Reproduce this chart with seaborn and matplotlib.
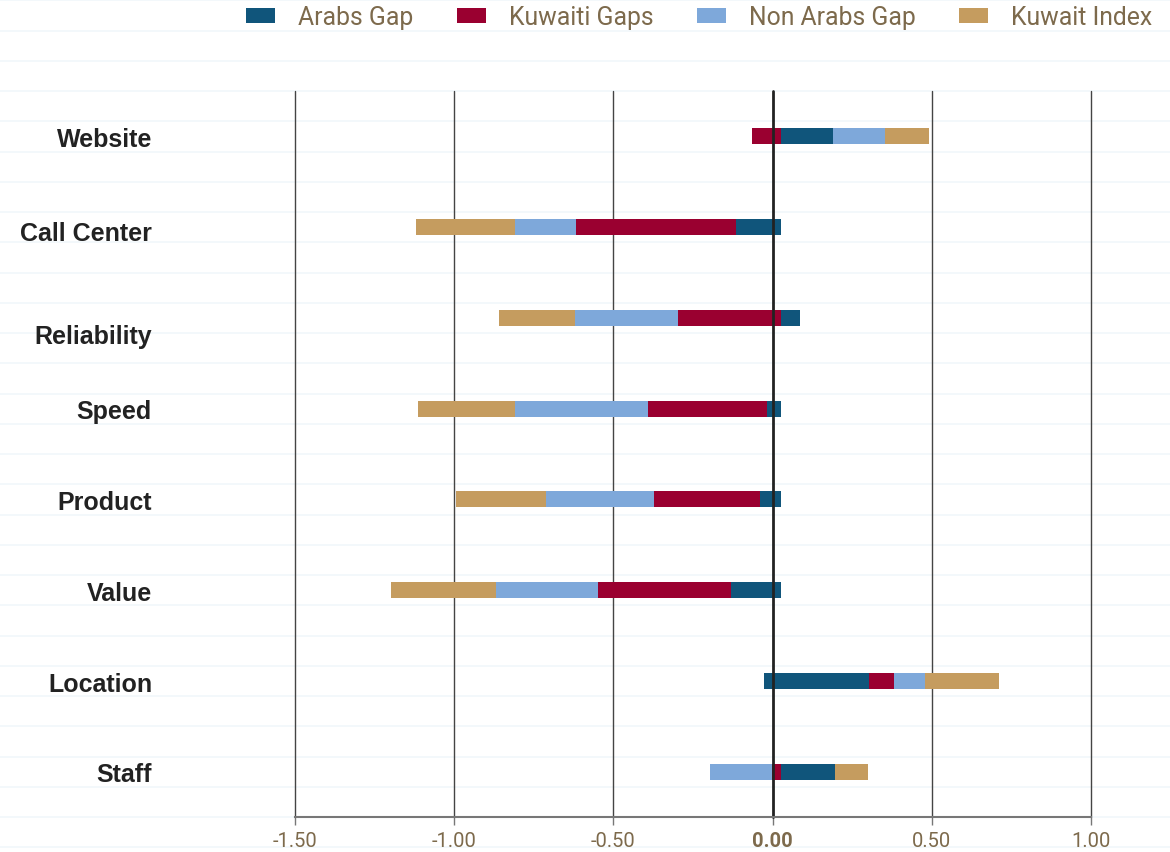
import matplotlib

matplotlib.use("Agg")
import matplotlib.pyplot as plt
import matplotlib.transforms as mtransforms
import numpy as np
import seaborn as sns
from matplotlib.lines import Line2D
from matplotlib.patches import Patch

categories = ["Website", "Call Center", "Reliability", "Speed", "Product", "Value", "Location", "Staff"]
series_names = ["Arabs Gap", "Kuwaiti Gaps", "Non Arabs Gap", "Kuwait Index"]

# stacks start from this point
stack_base = [0.026, 0.025, 0.025, 0.025, 0.025, 0.025, -0.028, 0.025]

arabs_gap = [0.163, -0.141, 0.060, -0.044, -0.066, -0.157, 0.330, 0.170]
kuwaiti_gaps = [-0.092, -0.500, -0.321, -0.371, -0.330, -0.415, 0.079, -0.028]
non_arabs_gap = [0.163, -0.193, -0.324, -0.419, -0.340, -0.321, 0.099, -0.195]
kuwait_index = [0.138, -0.310, -0.238, -0.304, -0.283, -0.330, 0.231, 0.104]

x_ticks = [-1.5, -1.0, -0.5, 0.0, 0.5, 1.0]

colors = ["#10557b", "#9a0030", "#7ea8da", "#c59c5f"]
text_brown = "#7d6a4c"

sns.set_theme(style="white")
plt.rcParams["font.family"] = ["Roboto", "DejaVu Sans"]

fig = plt.figure(figsize=(11.7, 8.53), dpi=100)
ax = fig.add_axes([295 / 1170, 35 / 853, 796 / 1170, 726 / 853])

ypos = np.arange(len(categories))
all_series = [arabs_gap, kuwaiti_gaps, non_arabs_gap, kuwait_index]

pos_cum = np.array(stack_base, dtype=float)
neg_cum = np.array(stack_base, dtype=float)
for values, color in zip(all_series, colors):
    vals = np.array(values)
    left = np.where(vals >= 0, pos_cum, neg_cum + vals)
    ax.barh(ypos, np.abs(vals), left=left, height=0.176, color=color, zorder=3, linewidth=0)
    pos_cum = pos_cum + np.where(vals >= 0, vals, 0)
    neg_cum = neg_cum + np.where(vals < 0, vals, 0)

ax.set_xlim(-1.5, 1.0)
ax.set_ylim(len(categories) - 0.5, -0.5)

# vertical grid lines
for xt in x_ticks:
    if xt == 0:
        ax.axvline(xt, color="#222222", lw=2.0, zorder=4, clip_on=False)
    else:
        ax.axvline(xt, color="#444444", lw=1.0, zorder=1, clip_on=False)

# faint horizontal lines across the whole figure
blend = mtransforms.blended_transform_factory(fig.transFigure, ax.transData)
for k in range(-3, 26):
    y = -0.5 + k / 3
    ax.add_line(Line2D([0, 1], [y, y], transform=blend, clip_on=False,
                       color="#f1f7fb", lw=1.2, zorder=0))

for side in ["top", "right", "left"]:
    ax.spines[side].set_visible(False)
ax.spines["bottom"].set_color("#777777")
ax.spines["bottom"].set_linewidth(1.5)
ax.spines["bottom"].set_zorder(5)

ax.set_xticks(x_ticks)
ax.set_xticklabels([f"{t:.2f}" for t in x_ticks])
ax.tick_params(axis="x", direction="out", length=6, width=1, color="#777777",
               labelsize=14.5, labelcolor=text_brown, pad=4, bottom=True)
for lbl in ax.get_xticklabels():
    lbl.set_fontweight("normal")
    if lbl.get_text() == "0.00":
        lbl.set_fontweight("bold")

ax.set_yticks([])
ax.set_xlabel("")
ax.set_ylabel("")

# category labels
label_nudge = {"Call Center": 2, "Reliability": 11}
lab_tr = mtransforms.blended_transform_factory(ax.transAxes, ax.transData)
for i, cat in enumerate(categories):
    tr = mtransforms.offset_copy(lab_tr, fig=fig, x=0, y=-2 - label_nudge.get(cat, 0), units="points")
    ax.text(-143 / 796, i, cat, transform=tr, ha="right", va="center",
            fontsize=18, fontweight="bold", color="#222222",
            family=["Liberation Sans", "DejaVu Sans"])

handles = [Patch(facecolor=c, edgecolor="none") for c in colors]
leg = fig.legend(handles, series_names, loc="center left", bbox_to_anchor=(246 / 1170, 1 - 18 / 853),
                 ncol=4, frameon=False, fontsize=17.8, borderaxespad=0, borderpad=0,
                 handlelength=1.18, handleheight=0.57, handletextpad=0.93, columnspacing=1.75)
for t in leg.get_texts():
    t.set_color(text_brown)
    t.set_fontweight("normal")

fig.savefig("out.png", dpi=100)
